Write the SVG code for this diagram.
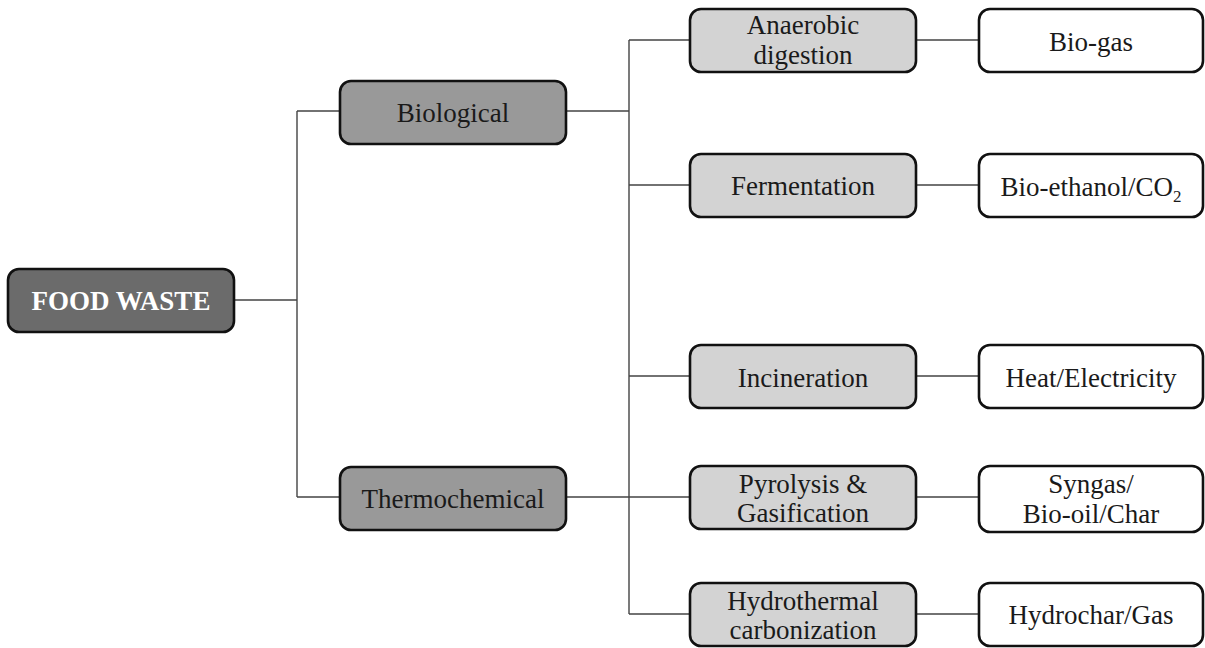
<svg xmlns="http://www.w3.org/2000/svg" width="1205" height="648" viewBox="0 0 1205 648">
<style>
.box{stroke:#111;stroke-width:2.6}
.root{fill:#6b6b6b}
.l1{fill:#999999}
.l2{fill:#d3d3d3}
.l3{fill:#ffffff}
text{font-family:"Liberation Serif","Times New Roman",serif;font-size:27px;fill:#1a1a1a;text-anchor:middle}
.w{fill:#ffffff;font-weight:bold}
#connectors path{fill:none;stroke:#444;stroke-width:1.4}
</style>
<rect width="1205" height="648" fill="#ffffff"/>
<g id="connectors">
<path d="M234 300H297M297 111V497M297 111H340M297 497H340"/>
<path d="M566 111H629M629 40V614M629 40H690M629 185H690M629 376H690M566 497H690M629 614H690"/>
<path d="M916 40H979M916 185H979M916 376H979M916 497H979M916 614H979"/>
</g>
<g id="food-waste"><rect class="box root" x="8" y="269" width="226" height="63" rx="11"/><text class="w" x="121" y="310">FOOD WASTE</text></g>
<g id="biological"><rect class="box l1" x="340" y="81" width="226" height="63" rx="11"/><text x="453" y="122">Biological</text></g>
<g id="thermochemical"><rect class="box l1" x="340" y="467" width="226" height="63" rx="11"/><text x="453" y="508">Thermochemical</text></g>
<g id="anaerobic"><rect class="box l2" x="690" y="9" width="226" height="63" rx="11"/><text x="803" y="34">Anaerobic</text><text x="803" y="64">digestion</text></g>
<g id="fermentation"><rect class="box l2" x="690" y="154" width="226" height="63" rx="11"/><text x="803" y="195">Fermentation</text></g>
<g id="incineration"><rect class="box l2" x="690" y="345" width="226" height="63" rx="11"/><text x="803" y="387">Incineration</text></g>
<g id="pyrolysis"><rect class="box l2" x="690" y="466" width="226" height="63" rx="11"/><text x="803" y="493">Pyrolysis &amp;</text><text x="803" y="522">Gasification</text></g>
<g id="hydrothermal"><rect class="box l2" x="690" y="583" width="226" height="63" rx="11"/><text x="803" y="610">Hydrothermal</text><text x="803" y="639">carbonization</text></g>
<g id="biogas"><rect class="box l3" x="979" y="9" width="224" height="63" rx="11"/><text x="1091" y="51">Bio-gas</text></g>
<g id="bioethanol"><rect class="box l3" x="979" y="154" width="224" height="63" rx="11"/><text x="1091" y="196">Bio-ethanol/CO<tspan font-size="17" dy="6">2</tspan></text></g>
<g id="heat"><rect class="box l3" x="979" y="345" width="224" height="63" rx="11"/><text x="1091" y="387">Heat/Electricity</text></g>
<g id="syngas"><rect class="box l3" x="979" y="466" width="224" height="66" rx="11"/><text x="1091" y="493">Syngas/</text><text x="1091" y="523">Bio-oil/Char</text></g>
<g id="hydrochar"><rect class="box l3" x="979" y="583" width="224" height="63" rx="11"/><text x="1091" y="624">Hydrochar/Gas</text></g>
</svg>
